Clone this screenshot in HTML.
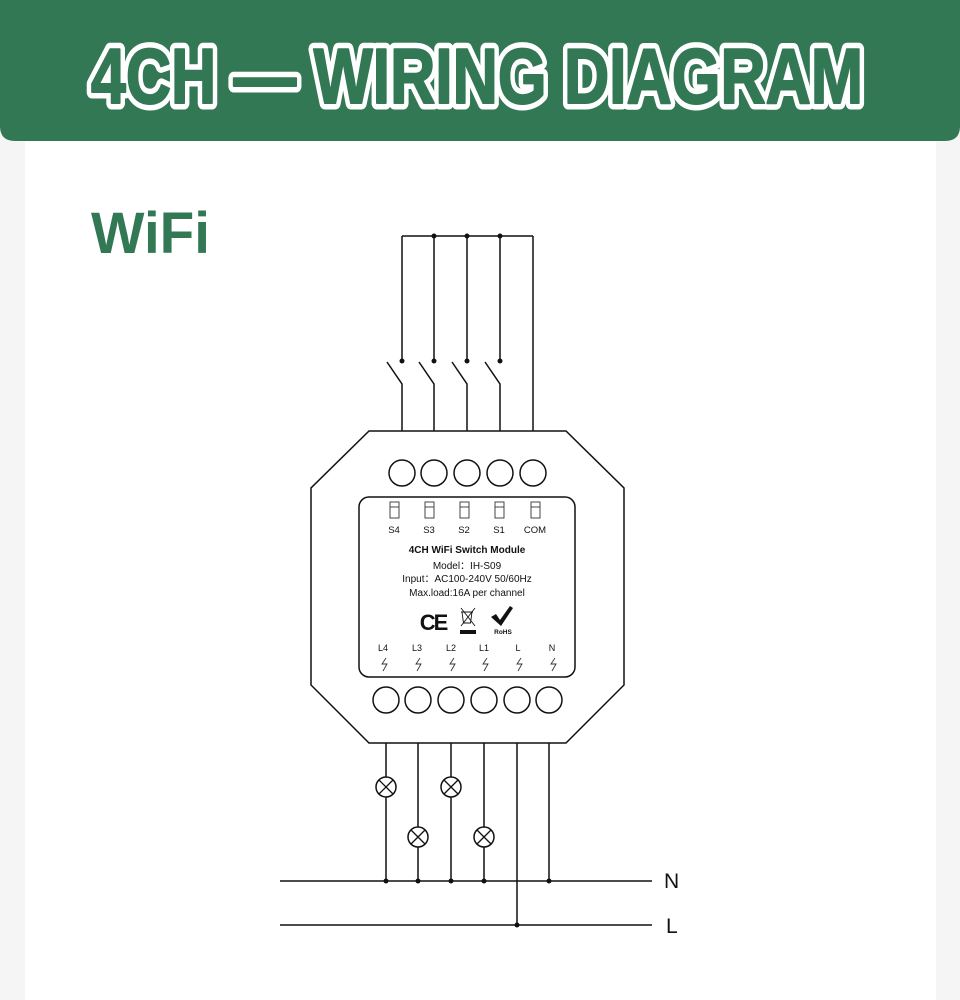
<!DOCTYPE html>
<html><head><meta charset="utf-8"><style>
html,body{margin:0;padding:0;width:960px;height:1000px;overflow:hidden;background:#f5f5f5}
svg{display:block}
</style></head><body>
<svg width="960" height="1000" viewBox="0 0 960 1000" xmlns="http://www.w3.org/2000/svg">
<rect x="0" y="0" width="960" height="1000" fill="#f5f5f5"/>
<rect x="25" y="120" width="911" height="880" fill="#ffffff"/>
<path d="M0,0 H960 V126 Q960,141 945,141 H15 Q0,141 0,126 Z" fill="#337855"/>
<text x="477" y="103" text-anchor="middle" font-family="Liberation Sans, sans-serif" font-weight="bold" font-size="78" textLength="772" lengthAdjust="spacingAndGlyphs" fill="#337855" stroke="#ffffff" stroke-width="13" stroke-linejoin="round">4CH — WIRING DIAGRAM</text>
<text x="477" y="103" text-anchor="middle" font-family="Liberation Sans, sans-serif" font-weight="bold" font-size="78" textLength="772" lengthAdjust="spacingAndGlyphs" fill="#337855" stroke="#337855" stroke-width="2" stroke-linejoin="round">4CH — WIRING DIAGRAM</text>
<text x="91" y="253" font-family="Liberation Sans, sans-serif" font-weight="bold" font-size="58" fill="#337855" textLength="119" lengthAdjust="spacingAndGlyphs">WiFi</text>

<g stroke="#111" stroke-width="1.5" fill="none">
<path d="M402,236 H533"/>
<path d="M402,236 V361 M434,236 V361 M467,236 V361 M500,236 V361"/>
<path d="M387,362 L402,384 V431 M419,362 L434,384 V431 M452,362 L467,384 V431 M485,362 L500,384 V431"/>
<path d="M533,236 V431"/>
<path d="M369,431 H566 L624,488 V685 L566,743 H369 L311,685 V488 Z"/>
<circle cx="402" cy="473" r="13"/><circle cx="434" cy="473" r="13"/><circle cx="467" cy="473" r="13"/><circle cx="500" cy="473" r="13"/><circle cx="533" cy="473" r="13"/>
<rect x="359" y="497" width="216" height="180" rx="10"/>
<circle cx="386" cy="700" r="13"/><circle cx="418" cy="700" r="13"/><circle cx="451" cy="700" r="13"/><circle cx="484" cy="700" r="13"/><circle cx="517" cy="700" r="13"/><circle cx="549" cy="700" r="13"/>
<path d="M386,743 V880 M418,743 V880 M451,743 V880 M484,743 V880 M549,743 V880 M517,743 V925"/>
<path d="M280,881 H652 M280,925 H652"/>
</g>
<g stroke="#111" stroke-width="1.5" fill="#fff">
<circle cx="386" cy="787" r="10"/><circle cx="418" cy="837" r="10"/><circle cx="451" cy="787" r="10"/><circle cx="484" cy="837" r="10"/>
</g>
<g stroke="#111" stroke-width="1.3">
<path d="M379,780 l14,14 M393,780 l-14,14"/>
<path d="M411,830 l14,14 M425,830 l-14,14"/>
<path d="M444,780 l14,14 M458,780 l-14,14"/>
<path d="M477,830 l14,14 M491,830 l-14,14"/>
</g>
<g fill="#111">
<circle cx="402" cy="361" r="2.5"/><circle cx="434" cy="361" r="2.5"/><circle cx="467" cy="361" r="2.5"/><circle cx="500" cy="361" r="2.5"/>
<circle cx="434" cy="236" r="2.5"/><circle cx="467" cy="236" r="2.5"/><circle cx="500" cy="236" r="2.5"/>
<circle cx="386" cy="881" r="2.5"/><circle cx="418" cy="881" r="2.5"/><circle cx="451" cy="881" r="2.5"/><circle cx="484" cy="881" r="2.5"/><circle cx="549" cy="881" r="2.5"/>
<circle cx="517" cy="925" r="2.5"/>
</g>
<g stroke="#333" stroke-width="0.9" fill="none">
<rect x="390" y="502" width="9" height="16"/><path d="M390,507 H399"/>
<rect x="425" y="502" width="9" height="16"/><path d="M425,507 H434"/>
<rect x="460" y="502" width="9" height="16"/><path d="M460,507 H469"/>
<rect x="495" y="502" width="9" height="16"/><path d="M495,507 H504"/>
<rect x="531" y="502" width="9" height="16"/><path d="M531,507 H540"/>
<path d="M386,658 l-4,6 h5 l-4,7 M420,658 l-4,6 h5 l-4,7 M454,658 l-4,6 h5 l-4,7 M487,658 l-4,6 h5 l-4,7 M521,658 l-4,6 h5 l-4,7 M555,658 l-4,6 h5 l-4,7"/>
</g>
<g font-family="Liberation Sans, sans-serif" fill="#111" text-anchor="middle">
<text x="394" y="533" font-size="9.5">S4</text>
<text x="429" y="533" font-size="9.5">S3</text>
<text x="464" y="533" font-size="9.5">S2</text>
<text x="499" y="533" font-size="9.5">S1</text>
<text x="535" y="533" font-size="9.5">COM</text>
<text x="467" y="553" font-size="10" font-weight="bold">4CH WiFi Switch Module</text>
<text x="467" y="569" font-size="10">Model：IH-S09</text>
<text x="467" y="582" font-size="10">Input：AC100-240V 50/60Hz</text>
<text x="467" y="596" font-size="10">Max.load:16A per channel</text>
<text x="383" y="651" font-size="9">L4</text>
<text x="417" y="651" font-size="9">L3</text>
<text x="451" y="651" font-size="9">L2</text>
<text x="484" y="651" font-size="9">L1</text>
<text x="518" y="651" font-size="9">L</text>
<text x="552" y="651" font-size="9">N</text>
<text x="433" y="630" font-size="22" font-weight="bold" letter-spacing="-2">CE</text>
<text x="503" y="634" font-size="6.5" font-weight="bold">RoHS</text>
</g>
<g stroke="#111" stroke-width="0.9" fill="none">
<path d="M462,612 h10 l-1.5,11 h-7 Z M461,612 h12 M461,608 l14,18 M475,608 l-14,18"/>
</g>
<rect x="460" y="630" width="16" height="4" fill="#111"/>
<path d="M491,617 l5,-3 l4,6 l10,-14 l3,2 l-12,18 Z" fill="#111"/>
<g font-family="Liberation Sans, sans-serif" fill="#111" font-size="21">
<text x="664" y="888">N</text>
<text x="666" y="933">L</text>
</g>
</svg>
</body></html>
